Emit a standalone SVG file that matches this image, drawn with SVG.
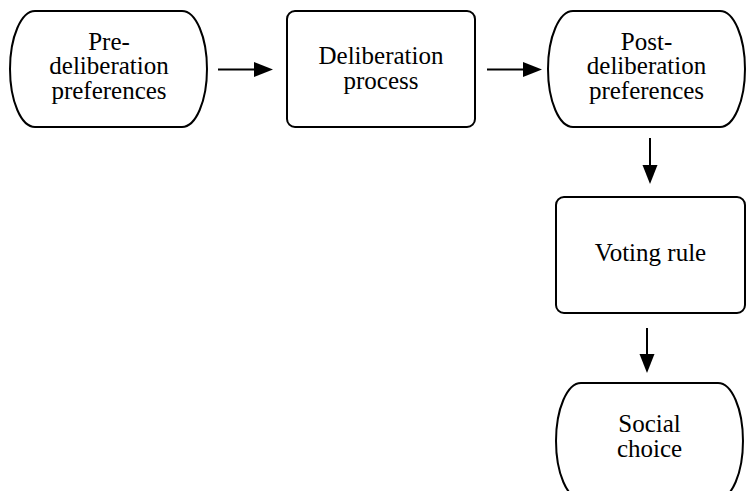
<svg xmlns="http://www.w3.org/2000/svg" width="746" height="491" viewBox="0 0 746 491">
  <style>
    .shape { fill: #ffffff; stroke: #000000; stroke-width: 2; }
    .label { font-family: 'Liberation Serif', 'Times New Roman', serif; font-size: 25px; fill: #000000; text-anchor: middle; }
    .edge { stroke: #000000; stroke-width: 2; fill: none; marker-end: url(#arrow); }
  </style>
  <defs>
    <marker id="arrow" markerUnits="userSpaceOnUse" markerWidth="20" markerHeight="16" refX="9" refY="7.5" orient="auto">
      <path d="M0,0 L19,7.5 L0,15 Z" fill="#000000"/>
    </marker>
  </defs>
  <rect width="746" height="491" fill="#ffffff"/>

  <g id="pre-deliberation">
    <path class="shape" d="M35 11 H182 A25 58 0 0 1 182 127 H35 A25 58 0 0 1 35 11 Z"/>
    <text class="label" x="109" y="49.5">Pre-</text>
    <text class="label" x="109" y="74">deliberation</text>
    <text class="label" x="109" y="98.5">preferences</text>
  </g>

  <g id="deliberation-process">
    <rect class="shape" x="287" y="11" width="188" height="116" rx="8" ry="8"/>
    <text class="label" x="381" y="64">Deliberation</text>
    <text class="label" x="381" y="88.5">process</text>
  </g>

  <g id="post-deliberation">
    <path class="shape" d="M573 11 H720 A25 58 0 0 1 720 127 H573 A25 58 0 0 1 573 11 Z"/>
    <text class="label" x="646.5" y="49.5">Post-</text>
    <text class="label" x="646.5" y="74">deliberation</text>
    <text class="label" x="646.5" y="98.5">preferences</text>
  </g>

  <g id="voting-rule">
    <rect class="shape" x="556" y="197" width="189" height="116" rx="8" ry="8"/>
    <text class="label" x="650.5" y="261">Voting rule</text>
  </g>

  <g id="social-choice">
    <path class="shape" d="M581 383 H718 A25 58 0 0 1 718 499 H581 A25 58 0 0 1 581 383 Z"/>
    <text class="label" x="649.5" y="432">Social</text>
    <text class="label" x="649.5" y="457">choice</text>
  </g>

  <g id="connectors">
    <line class="edge" x1="218" y1="69.5" x2="263" y2="69.5"/>
    <line class="edge" x1="487" y1="69.5" x2="532" y2="69.5"/>
    <line class="edge" x1="650" y1="138" x2="650" y2="174"/>
    <line class="edge" x1="647" y1="328" x2="647" y2="363"/>
  </g>
</svg>
